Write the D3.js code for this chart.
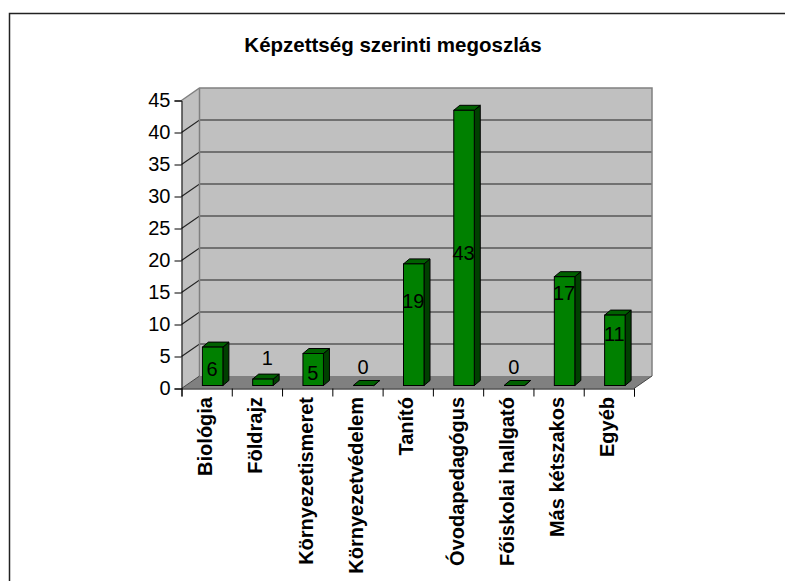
<!DOCTYPE html>
<html>
<head>
<meta charset="utf-8">
<script src="https://cdn.jsdelivr.net/npm/d3@7"></script>
<style>
html, body { margin: 0; padding: 0; background: #fff; }
svg { display: block; }
text { font-family: "Liberation Sans", Arial, sans-serif; fill: #000; }
</style>
</head>
<body>
<div id="chart"></div>
<script>
var categories = ["Biológia", "Földrajz", "Környezetismeret", "Környezetvédelem", "Tanító", "Óvodapedagógus", "Főiskolai hallgató", "Más kétszakos", "Egyéb"];
var values = [6, 1, 5, 0, 19, 43, 0, 17, 11];
var yTicks = [0, 5, 10, 15, 20, 25, 30, 35, 40, 45];
var titleText = "Képzettség szerinti megoszlás";

var width = 785, height = 581;
var svg = d3.select("#chart").append("svg").attr("width", width).attr("height", height);

// outer frame: only top and left edges show in the picture
svg.append("path").attr("d", "M9.5,581V13.5H785").attr("fill", "none").attr("stroke", "#222").attr("stroke-width", 1.5);

svg.append("text").attr("x", 393).attr("y", 52).attr("text-anchor", "middle")
    .attr("font-size", 20.5).attr("font-weight", "bold").text(titleText);

var yScale = d3.scaleLinear().domain([0, 45]).range([388.5, 100.5]);
var xScale = d3.scaleLinear().domain([0, categories.length]).range([181.5, 634]);
var depthX = 18, depthY = -12.5;
var bandW = xScale(1) - xScale(0);
var polyLine = d3.line();

// walls and floor
var x0 = xScale(0), x1 = xScale(categories.length), yb = yScale(0), yt = yScale(45);
svg.append("path").attr("d", polyLine([[x0, yb], [x0 + depthX, yb + depthY], [x0 + depthX, yt + depthY], [x0, yt]]) + "Z")
    .attr("fill", "#c0c0c0");
svg.append("path").attr("d", polyLine([[x0 + depthX, yb + depthY], [x1 + depthX, yb + depthY], [x1 + depthX, yt + depthY], [x0 + depthX, yt + depthY]]) + "Z")
    .attr("fill", "#c0c0c0");
svg.append("path").attr("d", polyLine([[x0, yb], [x1, yb], [x1 + depthX, yb + depthY], [x0 + depthX, yb + depthY]]) + "Z")
    .attr("fill", "#808080");

// gridlines
yTicks.forEach(function (t) {
    if (t > 0 && t < 45) {
        svg.append("path").attr("d", polyLine([[x0, yScale(t)], [x0 + depthX, yScale(t) + depthY], [x1 + depthX, yScale(t) + depthY]]))
            .attr("fill", "none").attr("stroke", "#222").attr("stroke-width", 1.2);
    }
});
svg.append("path").attr("d", polyLine([[x0, yt], [x0 + depthX, yt + depthY], [x1 + depthX, yt + depthY], [x1 + depthX, yb + depthY]]))
    .attr("fill", "none").attr("stroke", "#808080").attr("stroke-width", 1.5);
svg.append("path").attr("d", polyLine([[x0 + depthX, yt + depthY], [x0 + depthX, yb + depthY]]))
    .attr("fill", "none").attr("stroke", "#808080").attr("stroke-width", 1.5);
svg.append("path").attr("d", polyLine([[x1, yb], [x1 + depthX, yb + depthY]]))
    .attr("fill", "none").attr("stroke", "#444").attr("stroke-width", 1);
svg.append("path").attr("d", polyLine([[x0, yb], [x0 + depthX, yb + depthY]]))
    .attr("fill", "none").attr("stroke", "#444").attr("stroke-width", 1);

// bars
var barW = 20.5, barDx = 6, barDy = -5;
var bars = svg.append("g");
categories.forEach(function (c, i) {
    var bx = xScale(i) + (bandW - barW) / 2 + 6;
    var by = yScale(0) - 3;
    var ty = by - (yScale(0) - yScale(values[i]));
    bars.append("path").attr("d", polyLine([[bx + barW, by], [bx + barW + barDx, by + barDy], [bx + barW + barDx, ty + barDy], [bx + barW, ty]]) + "Z")
        .attr("fill", "#004000").attr("stroke", "#000").attr("stroke-width", 1);
    bars.append("path").attr("d", polyLine([[bx, ty], [bx + barDx, ty + barDy], [bx + barW + barDx, ty + barDy], [bx + barW, ty]]) + "Z")
        .attr("fill", "#006000").attr("stroke", "#000").attr("stroke-width", 1);
    bars.append("rect").attr("x", bx).attr("y", ty).attr("width", barW).attr("height", by - ty)
        .attr("fill", "#008000").attr("stroke", "#000").attr("stroke-width", 1);
});

// axes
var yAxis = d3.axisLeft(yScale).tickValues(yTicks).tickSize(7).tickPadding(4);
var gy = svg.append("g").attr("transform", "translate(" + x0 + ",0)").call(yAxis);
gy.selectAll("text").attr("font-size", 20).attr("font-family", null);
var xAxis = d3.axisBottom(xScale).ticks(categories.length).tickSize(8).tickFormat("");
svg.append("g").attr("transform", "translate(0," + yb + ")").call(xAxis);

// category labels, rotated
categories.forEach(function (c, i) {
    svg.append("text")
        .attr("transform", "translate(" + (xScale(i + 0.5) - 1.5) + ",397) rotate(-90)")
        .attr("text-anchor", "end").attr("dy", "0.35em")
        .attr("font-size", 20).attr("font-weight", "bold").text(c);
});

// value labels: how far up the excel placement puts each one, read in axis units
var labelLevel = [3.1, 4.75, 2.4, 3.3, 13.7, 21.2, 3.3, 15, 8.5];
// the "1" sits further right than the others
var labelShift = [0, 5, 0, 0, 0, 0, 0, 0, 0];
categories.forEach(function (c, i) {
    svg.append("text")
        .attr("x", xScale(i + 0.5) + 5.5 + labelShift[i]).attr("y", yScale(labelLevel[i]))
        .attr("text-anchor", "middle").attr("dy", "0.35em")
        .attr("font-size", 20).text(values[i]);
});
</script>
</body>
</html>
